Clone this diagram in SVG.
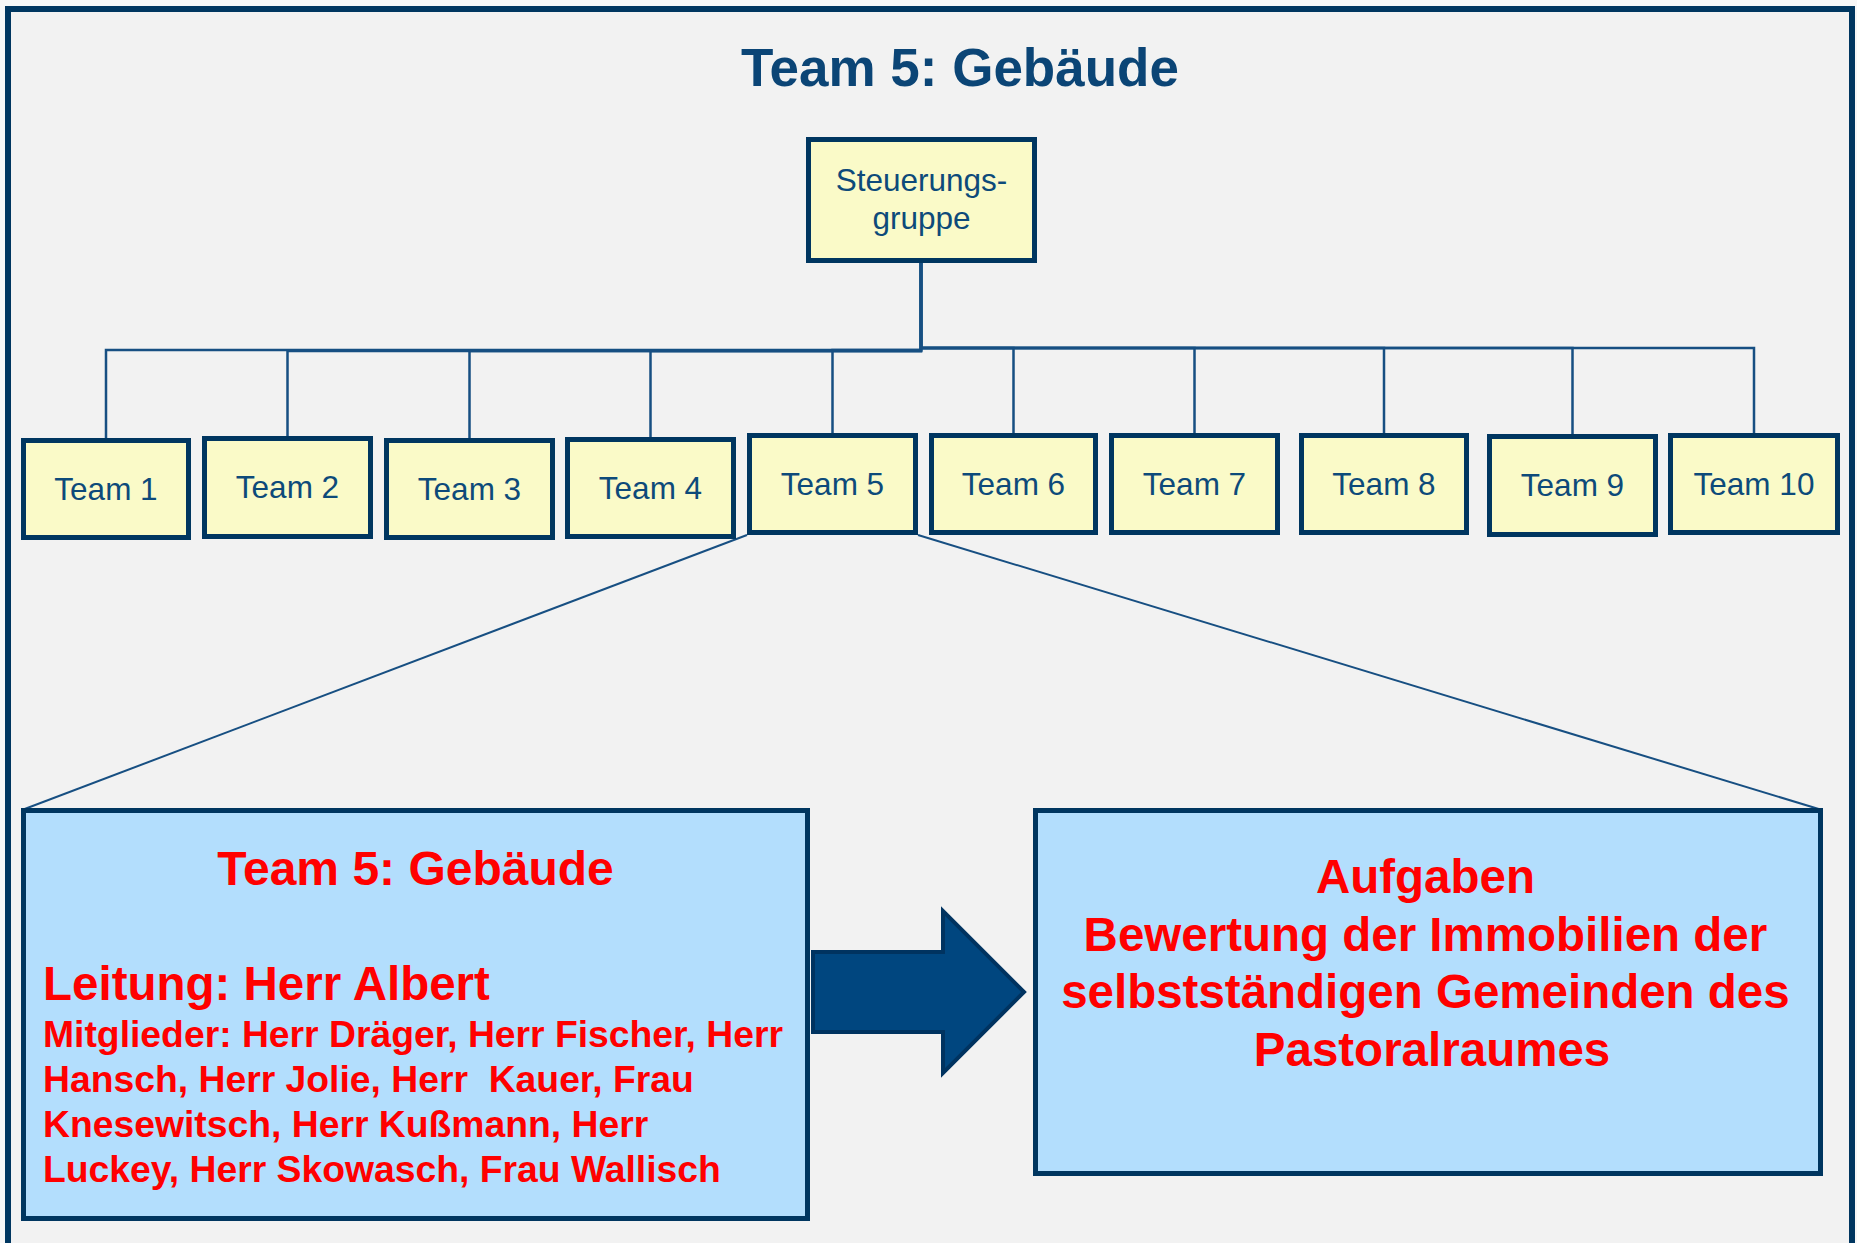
<svg xmlns="http://www.w3.org/2000/svg" width="1857" height="1243" viewBox="0 0 1857 1243">
<style>
.frame{fill:#f2f2f2;stroke:#003660;stroke-width:6}
.ybox{fill:#fafac8;stroke:#003660;stroke-width:5}
.bbox{fill:#b3defd;stroke:#003660;stroke-width:5}
.lbl{font-family:"Liberation Sans",Arial,sans-serif;font-size:31.5px;fill:#0d4a7a;text-anchor:middle}
.title{font-family:"Liberation Sans",Arial,sans-serif;font-size:53px;font-weight:bold;fill:#0b4576;text-anchor:middle}
.red{font-family:"Liberation Sans",Arial,sans-serif;font-weight:bold;fill:#ff0000}
.conn{fill:none;stroke:#174f82;stroke-width:2.5}
.diag{fill:none;stroke:#174f82;stroke-width:2}
</style>
<rect x="0" y="0" width="1857" height="1243" fill="#f7f7f7"/>
<rect class="frame" x="8" y="9" width="1844" height="1260"/>
<text class="title" x="960" y="86">Team 5: Gebäude</text>

<g id="connectors">
<path class="conn" d="M921 263V350H106V438"/>
<path class="conn" d="M921 263V351H287.5V436"/>
<path class="conn" d="M921 263V351H469.5V438"/>
<path class="conn" d="M921 263V351H650.5V437"/>
<path class="conn" d="M921 263V350H832.5V433"/>
<path class="conn" d="M921 263V348H1013.5V433"/>
<path class="conn" d="M921 263V348H1194.5V433"/>
<path class="conn" d="M921 263V348H1384V433"/>
<path class="conn" d="M921 263V348H1572.5V434"/>
<path class="conn" d="M921 263V348H1754V433"/>
<path class="diag" d="M747 535L22 810"/>
<path class="diag" d="M918 535L1822 810"/>
</g>

<g id="steuerungsgruppe">
<rect class="ybox" x="808.5" y="139.5" width="226" height="121"/>
<text class="lbl" x="921.5" y="191" font-size="32">Steuerungs-</text>
<text class="lbl" x="921.5" y="229" font-size="32">gruppe</text>
</g>

<g id="team1"><rect class="ybox" x="23.5" y="440.5" width="165" height="97"/><text class="lbl" x="106" y="500">Team 1</text></g>
<g id="team2"><rect class="ybox" x="204.5" y="438.5" width="166" height="98"/><text class="lbl" x="287.5" y="498">Team 2</text></g>
<g id="team3"><rect class="ybox" x="386.5" y="440.5" width="166" height="97"/><text class="lbl" x="469.5" y="500">Team 3</text></g>
<g id="team4"><rect class="ybox" x="567.5" y="439.5" width="166" height="97"/><text class="lbl" x="650.5" y="499">Team 4</text></g>
<g id="team5"><rect class="ybox" x="749.5" y="435.5" width="166" height="97"/><text class="lbl" x="832.5" y="495">Team 5</text></g>
<g id="team6"><rect class="ybox" x="931.5" y="435.5" width="164" height="97"/><text class="lbl" x="1013.5" y="495">Team 6</text></g>
<g id="team7"><rect class="ybox" x="1111.5" y="435.5" width="166" height="97"/><text class="lbl" x="1194.5" y="495">Team 7</text></g>
<g id="team8"><rect class="ybox" x="1301.5" y="435.5" width="165" height="97"/><text class="lbl" x="1384" y="495">Team 8</text></g>
<g id="team9"><rect class="ybox" x="1489.5" y="436.5" width="166" height="98"/><text class="lbl" x="1572.5" y="496">Team 9</text></g>
<g id="team10"><rect class="ybox" x="1670.5" y="435.5" width="167" height="97"/><text class="lbl" x="1754" y="495">Team 10</text></g>

<g id="team5-detail">
<rect class="bbox" x="23.5" y="810.5" width="784" height="408"/>
<text class="red" x="415.5" y="885" font-size="48" text-anchor="middle">Team 5: Gebäude</text>
<text class="red" x="43" y="1000" font-size="47.5">Leitung: Herr Albert</text>
<text class="red" x="43" y="1047" font-size="37.3">Mitglieder: Herr Dräger, Herr Fischer, Herr</text>
<text class="red" x="43" y="1092" font-size="37.3" xml:space="preserve" style="white-space:pre">Hansch, Herr Jolie, Herr  Kauer, Frau</text>
<text class="red" x="43" y="1137" font-size="37.3">Knesewitsch, Herr Kußmann, Herr</text>
<text class="red" x="43" y="1182" font-size="37.3">Luckey, Herr Skowasch, Frau Wallisch</text>
</g>

<g id="arrow">
<path d="M813 952H943V911L1024 992L943 1073V1032H813Z" fill="#00467f" stroke="#003360" stroke-width="4" stroke-linejoin="miter"/>
</g>

<g id="aufgaben">
<rect class="bbox" x="1035.5" y="810.5" width="785" height="363"/>
<text class="red" font-size="47.5" text-anchor="middle">
<tspan x="1432" y="893">Aufgaben</tspan>
<tspan x="1432" y="951">Bewertung der Immobilien der</tspan>
<tspan x="1432" y="1008">selbstständigen Gemeinden des</tspan>
<tspan x="1432" y="1066">Pastoralraumes</tspan>
</text>
</g>
</svg>
